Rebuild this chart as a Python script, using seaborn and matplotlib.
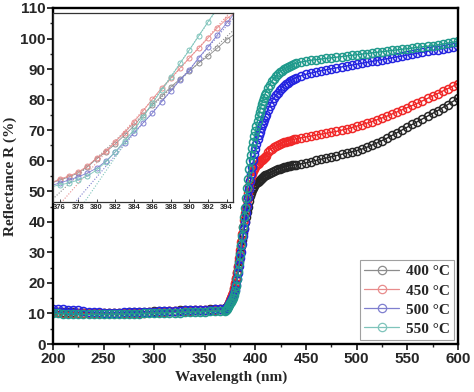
import numpy as np
import pandas as pd
import matplotlib
matplotlib.use("Agg")
import matplotlib.pyplot as plt
from matplotlib.lines import Line2D
from matplotlib.ticker import MultipleLocator
import seaborn as sns

# ---------------- data ----------------
wavelength = (list(range(200, 371, 5)) + list(range(371, 411))
              + list(range(412, 441, 2)) + list(range(445, 601, 5)))

r_400 = [10.6,10.6,10.5,10.5,10.4,10.3,10.3,10.2,10.2,10.2,10.2,10.2,10.3,10.3,10.3,10.4,10.4,10.5,10.5,10.6,
         10.7,10.7,10.8,10.9,10.9,11.0,11.1,11.1,11.2,11.3,11.3,11.4,11.5,11.6,11.8,
         11.9,12.2,12.7,13.4,14.2,
         15.0,15.7,16.6,18.0,19.8,21.4,23.2,25.2,27.3,29.8,32.1,34.1,36.2,38.0,39.8,41.6,43.2,45.0,46.9,
         48.4,49.6,50.5,51.2,51.8,52.3,52.7,53.1,53.5,53.8,54.1,54.4,54.7,55.0,55.2,55.4,
         55.8,56.1,56.4,56.7,57.0,57.2,57.4,57.6,57.8,58.0,58.2,58.4,58.5,58.6,58.7,
         59.0,59.3,59.7,60.1,60.5,60.9,61.3,61.7,62.1,62.5,62.9,63.3,63.8,64.4,65.1,65.8,
         66.6,67.4,68.3,69.2,70.1,71.0,71.9,72.8,73.7,74.6,75.5,76.4,77.4,78.4,79.4,80.4]

r_450 = [10.4,10.4,10.3,10.3,10.2,10.1,10.1,10.0,10.0,10.0,10.0,10.0,10.1,10.1,10.1,10.2,10.2,10.3,10.3,10.4,
         10.5,10.5,10.6,10.7,10.7,10.8,10.9,10.9,11.0,11.1,11.1,11.2,11.3,11.4,11.6,
         11.7,12.1,12.6,13.4,14.3,
         15.2,15.9,16.8,18.2,20.0,21.6,23.7,25.7,28.2,30.7,33.4,35.9,38.2,40.5,42.8,45.0,47.3,49.6,51.6,
         53.3,54.7,55.8,56.7,57.4,58.0,58.5,59.0,59.4,59.8,60.1,60.4,60.7,61.0,61.3,61.6,
         62.8,63.5,64.0,64.4,64.8,65.1,65.4,65.7,66.0,66.2,66.4,66.6,66.8,67.0,67.2,
         67.5,67.8,68.1,68.4,68.7,69.0,69.3,69.6,70.0,70.4,70.8,71.3,71.8,72.3,72.8,73.4,
         74.0,74.6,75.3,76.0,76.7,77.4,78.1,78.8,79.6,80.4,81.2,82.0,82.8,83.6,84.4,85.2]

r_500 = [11.6,11.5,11.4,11.3,11.2,11.0,10.7,10.5,10.4,10.4,10.3,10.3,10.3,10.3,10.4,10.4,10.4,10.5,10.5,10.6,
         10.6,10.7,10.7,10.8,10.8,10.9,11.0,11.0,11.1,11.2,11.2,11.3,11.4,11.5,11.6,
         11.7,12.0,12.5,13.1,13.7,
         14.3,15.0,15.7,16.6,17.7,19.3,21.4,23.4,25.7,28.0,30.2,32.8,35.3,37.8,40.0,42.8,45.3,48.0,50.7,
         53.3,55.8,58.1,60.2,62.2,64.0,65.6,67.0,68.3,69.5,70.6,71.6,72.5,73.4,74.2,75.0,
         76.6,78.0,79.3,80.4,81.4,82.3,83.1,83.8,84.5,85.1,85.6,86.1,86.5,86.9,87.2,
         87.8,88.3,88.7,89.1,89.5,89.8,90.1,90.4,90.7,91.0,91.3,91.6,91.9,92.2,92.5,92.8,
         93.1,93.4,93.7,94.0,94.3,94.6,94.9,95.2,95.5,95.8,96.1,96.4,96.7,97.0,97.3,97.6]

r_550 = [10.0,10.0,9.9,9.9,9.8,9.8,9.7,9.7,9.7,9.7,9.7,9.7,9.8,9.8,9.8,9.9,9.9,9.9,10.0,10.0,
         10.1,10.1,10.2,10.2,10.3,10.3,10.4,10.4,10.5,10.5,10.6,10.7,10.7,10.8,10.9,
         11.1,11.5,12.1,12.8,13.4,
         13.9,14.3,15.0,15.9,17.3,19.1,21.4,23.9,26.4,29.3,32.5,35.5,38.4,41.6,44.6,47.8,51.0,54.1,57.3,
         59.8,62.0,64.1,66.1,68.0,69.8,71.5,73.1,74.6,76.0,77.3,78.5,79.6,80.6,81.5,82.3,
         83.7,84.9,86.0,86.9,87.7,88.4,89.0,89.5,90.0,90.4,90.8,91.1,91.4,91.7,91.9,
         92.3,92.6,92.9,93.1,93.3,93.5,93.7,93.9,94.1,94.3,94.5,94.7,94.9,95.1,95.3,95.5,
         95.7,95.9,96.1,96.3,96.5,96.7,96.9,97.1,97.3,97.5,97.7,97.9,98.2,98.5,98.8,99.1]

labels = ["400 °C", "450 °C", "500 °C", "550 °C"]
series = [r_400, r_450, r_500, r_550]
main_colors = ["#262626", "#f02828", "#2424e0", "#1f9a8c"]
pale_colors = ["#8c8c8c", "#e88c8c", "#7f7fcf", "#7fc4bb"]

x_ticks = [200, 250, 300, 350, 400, 450, 500, 550, 600]
y_ticks = [0, 10, 20, 30, 40, 50, 60, 70, 80, 90, 100, 110]
inset_ticks = [376, 378, 380, 382, 384, 386, 388, 390, 392, 394]

df = pd.DataFrame({
    "Wavelength": np.tile(wavelength, len(series)),
    "R": np.concatenate(series),
    "Sample": np.repeat(labels, len(wavelength)),
})

# ---------------- figure ----------------
sns.set_style("ticks")
plt.rcParams["font.family"] = ["Liberation Sans", "DejaVu Sans"]

fig = plt.figure(figsize=(4.74, 3.92), dpi=100)
ax = fig.add_axes([0.112, 0.1224, 0.854, 0.8572])

for lab, c in zip(labels, main_colors):
    sub = df[df["Sample"] == lab]
    sns.lineplot(data=sub, x="Wavelength", y="R", ax=ax, color=c,
                 marker="o", markersize=5.8, markerfacecolor="none",
                 markeredgecolor=c, markeredgewidth=1.1, linewidth=1.0,
                 estimator=None, sort=False, legend=False)

ax.set_xlim(200, 600)
ax.set_ylim(0, 110)
ax.set_xticks(x_ticks)
ax.set_yticks(y_ticks)
ax.xaxis.set_minor_locator(MultipleLocator(25))
ax.yaxis.set_minor_locator(MultipleLocator(5))
ax.tick_params(which="major", direction="out", length=4, width=1.3,
               labelsize=11, pad=1.5, top=False, right=False)
ax.tick_params(which="minor", direction="out", length=2.5, width=1.0,
               top=False, right=False)
for t in ax.get_xticklabels() + ax.get_yticklabels():
    t.set_fontweight("bold")
for s in ax.spines.values():
    s.set_linewidth(1.7)
    s.set_color("black")

ax.set_xlabel("Wavelength (nm)", fontfamily="Liberation Serif",
              fontweight="bold", fontsize=11)
ax.xaxis.set_label_coords(0.44, -0.08)
ax.set_ylabel("Reflectance R (%)", fontfamily="Liberation Serif",
              fontweight="bold", fontsize=11, labelpad=2)

handles = [Line2D([], [], color=c, marker="o", markersize=6,
                  markerfacecolor="none", markeredgecolor=c,
                  markeredgewidth=0.9, linewidth=0.9) for c in pale_colors]
leg = ax.legend(handles, labels, loc="lower right", frameon=True,
                fancybox=False, borderaxespad=0.25, handlelength=2.3,
                handletextpad=0.4, labelspacing=0.35, borderpad=0.3,
                prop={"family": "Liberation Serif", "weight": "bold", "size": 11})
leg.get_frame().set_edgecolor("#888888")
leg.get_frame().set_linewidth(0.8)

# ---------------- inset ----------------
ins = fig.add_axes([0.112, 0.4847, 0.3796, 0.4821])
ins.set_facecolor("white")
win = df[(df["Wavelength"] >= 375) & (df["Wavelength"] <= 395)]
for lab, c in zip(labels, pale_colors):
    sub = win[win["Sample"] == lab]
    sns.lineplot(data=sub, x="Wavelength", y="R", ax=ins, color=c,
                 marker="o", markersize=3.6, markerfacecolor="none",
                 markeredgecolor=c, markeredgewidth=0.7, linewidth=0.6,
                 estimator=None, sort=False, legend=False)
    fit = sub[(sub["Wavelength"] >= 384) & (sub["Wavelength"] <= 392)]
    k, b = np.polyfit(fit["Wavelength"], fit["R"], 1)
    xx = np.array([370.0, 394.7])
    ins.plot(xx, k * xx + b, linestyle=(0, (1, 1.5)), color=c, linewidth=0.8)

ins.set_xlim(375.3, 394.7)
ins.set_ylim(10, 53)
ins.set_xticks(inset_ticks)
ins.set_yticks([])
ins.set_xlabel("")
ins.set_ylabel("")
ins.tick_params(axis="x", direction="in", length=2, width=0.6,
                labelsize=5.5, pad=1.5)
for t in ins.get_xticklabels():
    t.set_fontweight("bold")
for s in ins.spines.values():
    s.set_linewidth(0.9)
    s.set_color("#333333")

fig.savefig("out.png", dpi=100)
